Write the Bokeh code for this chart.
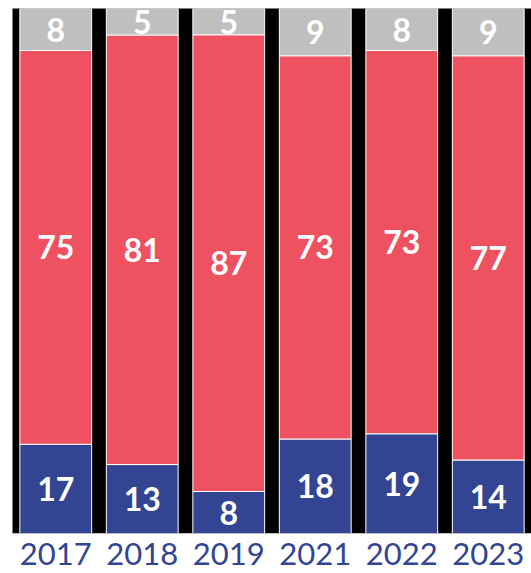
from bokeh.plotting import figure
from bokeh.models import ColumnDataSource, FactorRange
from bokeh.core.properties import value
from bokeh.embed import file_html
from bokeh.resources import INLINE

years = ["2017", "2018", "2019", "2021", "2022", "2023"]
blue_vals = [17, 13, 8, 18, 19, 14]
red_vals = [75, 81, 87, 73, 73, 77]
grey_vals = [8, 5, 5, 9, 8, 9]

BLUE = "#324492"
RED = "#EE5260"
GREY = "#BFBFBF"

# normalise to 100 % stacked
tot = [b + r + g for b, r, g in zip(blue_vals, red_vals, grey_vals)]
blue_p = [100 * b / t for b, t in zip(blue_vals, tot)]
red_p = [100 * r / t for r, t in zip(red_vals, tot)]
grey_p = [100 * g / t for g, t in zip(grey_vals, tot)]

src = ColumnDataSource(dict(x=years, blue=blue_p, red=red_p, grey=grey_p))

p = figure(x_range=FactorRange(*years, range_padding=0), y_range=(0, 100),
           width=531, height=573, output_backend="svg", toolbar_location=None,
           min_border_left=12, min_border_right=0, min_border_top=8,
           min_border_bottom=40)
p.background_fill_color = "black"
p.border_fill_color = "white"
p.outline_line_color = None
p.grid.visible = False
p.yaxis.visible = False

p.vbar_stack(["blue", "red", "grey"], x="x", width=0.83, source=src,
             color=[BLUE, RED, GREY], line_color="white", line_width=1)

# label positions (segment centres)
lab_x, lab_y, lab_t = [], [], []
for i, y in enumerate(years):
    b, r, g = blue_p[i], red_p[i], grey_p[i]
    lab_x += [y, y, y]
    lab_y += [b / 2, b + r / 2, b + r + g / 2]
    lab_t += [str(blue_vals[i]), str(red_vals[i]), str(grey_vals[i])]
lsrc = ColumnDataSource(dict(x=lab_x, y=lab_y, t=lab_t))
p.text(x="x", y="y", text="t", source=lsrc, text_color="white",
       text_font=value("Lato"), text_font_style="bold", text_font_size="32px",
       text_align="center", text_baseline="middle")

ax = p.xaxis[0]
ax.axis_line_color = GREY
ax.axis_line_width = 1
ax.major_tick_line_color = None
ax.minor_tick_line_color = None
ax.major_tick_out = 0
ax.major_tick_in = 0
ax.major_label_standoff = 9
ax.major_label_text_font = "Lato"
ax.major_label_text_font_size = "31px"
ax.major_label_text_color = BLUE

open("out.html", "w").write(file_html(p, INLINE))
